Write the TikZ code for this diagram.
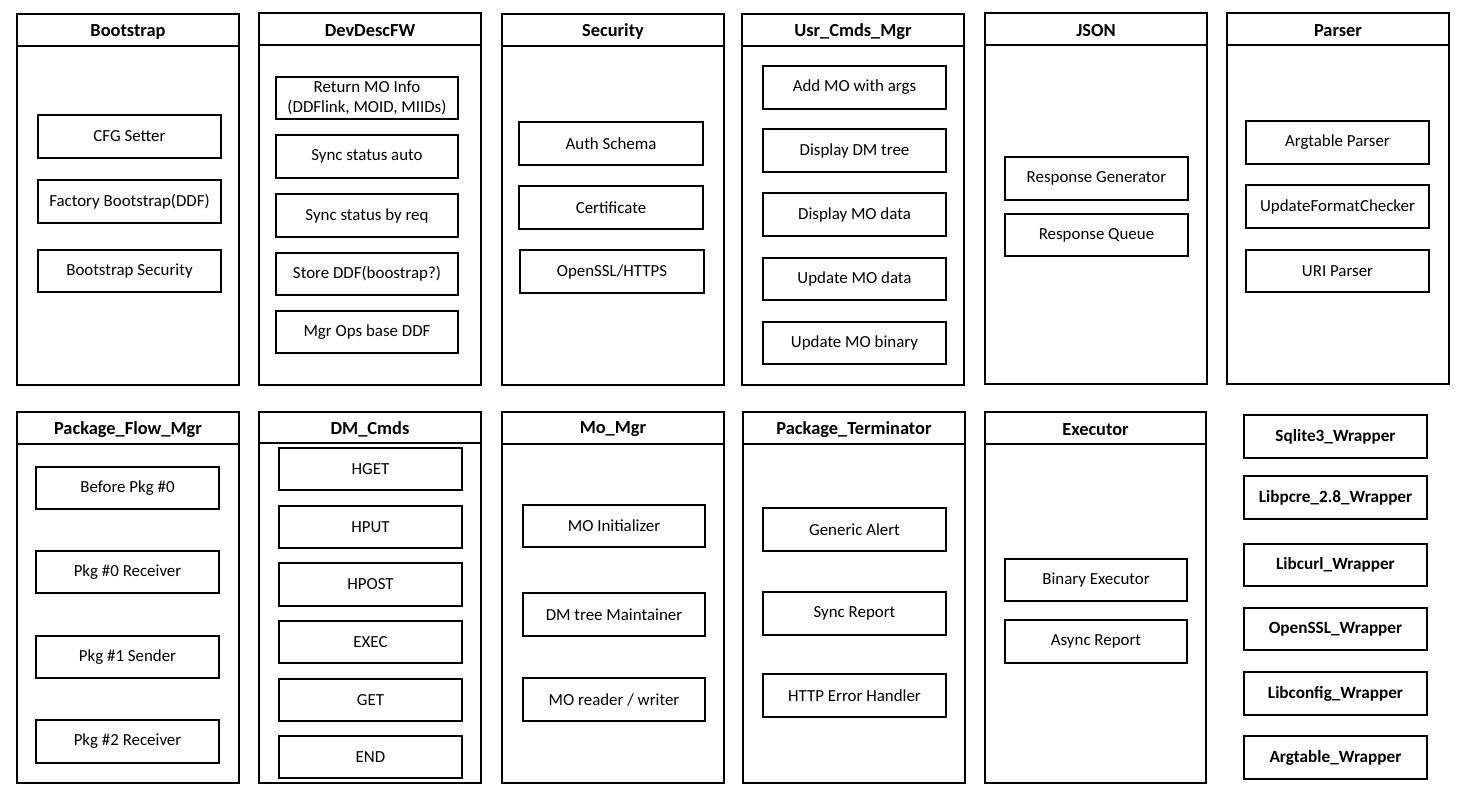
\documentclass[tikz,border=0pt]{standalone}
\usepackage{fontspec}
\setmainfont{Carlito}
\begin{document}
\begin{tikzpicture}[x=1pt,y=-1pt,
  cont/.style={draw,line width=2pt,inner sep=0pt,outer sep=0pt},
  hdr/.style={font=\fontsize{18.4}{20}\selectfont\bfseries,inner sep=0pt},
  ibox/.style={draw,line width=2pt,inner sep=0pt,outer sep=0pt,align=center,font=\fontsize{16.9}{20.5}\selectfont},
  wbox/.style={ibox,font=\fontsize{17.2}{20}\selectfont\bfseries}]
\useasboundingbox (0,0) rectangle (1460,795);
\newcommand\mycont[7]{%
  \node[cont,minimum width={#4-#2},minimum height={#5-#3}] (#1) at ({(#2+#4)/2},{(#3+#5)/2}) {};
  \draw[line width=2pt] (#2,#6) -- (#4,#6);
  \node[hdr] (#1-t) at ({(#2+#4)/2},{(#3+#6)/2+1.5}) {#7};}
\newcommand\mybox[7][ibox]{%
  \node[#1,minimum width={#5-#3},minimum height={#6-#4}] (#2) at ({(#3+#5)/2},{(#4+#6)/2}) {#7};}
% top row
\mycont{boot}{17}{14}{239}{385}{46}{Bootstrap}
\mybox{b1}{38}{115}{221}{158}{CFG Setter}
\mybox{b2}{38}{180}{221}{223}{Factory Bootstrap(DDF)}
\mybox{b3}{38}{250}{221}{292}{Bootstrap Security}
\mycont{dev}{259}{13}{481}{385}{45}{DevDescFW}
\mybox{d1}{276}{77}{458}{119}{Return MO Info\\(DDFlink, MOID, MIIDs)}
\mybox{d2}{276}{135}{458}{178}{Sync status auto}
\mybox{d3}{276}{194}{458}{237}{Sync status by req}
\mybox{d4}{276}{253}{458}{295}{Store DDF(boostrap?)}
\mybox{d5}{276}{311}{458}{353}{Mgr Ops base DDF}
\mycont{sec}{502}{14}{724}{385}{46}{Security}
\mybox{s1}{519}{122}{703}{165}{Auth Schema}
\mybox{s2}{519}{186}{703}{229}{Certificate}
\mybox{s3}{520}{250}{704}{293}{OpenSSL/HTTPS}
\mycont{usr}{742}{14}{964}{385}{46}{Usr\_Cmds\_Mgr}
\mybox{u1}{763}{66}{946}{109}{Add MO with args}
\mybox{u2}{763}{129}{946}{172}{Display DM tree}
\mybox{u3}{763}{193}{946}{236}{Display MO data}
\mybox{u4}{763}{258}{946}{300}{Update MO data}
\mybox{u5}{763}{322}{946}{364}{Update MO binary}
\mycont{json}{985}{13}{1207}{384}{45}{JSON}
\mybox{j1}{1005}{157}{1188}{200}{Response Generator}
\mybox{j2}{1005}{214}{1188}{256}{Response Queue}
\mycont{par}{1227}{13}{1449}{384}{45}{Parser}
\mybox{p1}{1246}{121}{1429}{164}{Argtable Parser}
\mybox{p2}{1246}{185}{1429}{228}{UpdateFormatChecker}
\mybox{p3}{1246}{250}{1429}{292}{URI Parser}
% bottom row
\mycont{pfm}{17}{412}{239}{783}{444}{Package\_Flow\_Mgr}
\mybox{f1}{36}{467}{219}{509}{Before Pkg \#0}
\mybox{f2}{36}{551}{219}{593}{Pkg \#0 Receiver}
\mybox{f3}{36}{636}{219}{678}{Pkg \#1 Sender}
\mybox{f4}{36}{720}{219}{763}{Pkg \#2 Receiver}
\mycont{dmc}{259}{412}{481}{783}{443}{DM\_Cmds}
\mybox{c1}{279}{448}{462}{490}{HGET}
\mybox{c2}{279}{506}{462}{548}{HPUT}
\mybox{c3}{279}{563}{462}{606}{HPOST}
\mybox{c4}{279}{621}{462}{663}{EXEC}
\mybox{c5}{279}{679}{462}{721}{GET}
\mybox{c6}{279}{736}{462}{778}{END}
\mycont{mo}{502}{412}{724}{783}{444}{Mo\_Mgr}
\mybox{m1}{523}{505}{705}{547}{MO Initializer}
\mybox{m2}{523}{593}{705}{636}{DM tree Maintainer}
\mybox{m3}{523}{678}{705}{721}{MO reader / writer}
\mycont{pt}{743}{412}{965}{783}{444}{Package\_Terminator}
\mybox{t1}{763}{508}{946}{551}{Generic Alert}
\mybox{t2}{763}{592}{946}{635}{Sync Report}
\mybox{t3}{763}{674}{946}{717}{HTTP Error Handler}
\mycont{exe}{985}{412}{1206}{783}{444}{Executor}
\mybox{e1}{1005}{559}{1187}{601}{Binary Executor}
\mybox{e2}{1005}{620}{1187}{663}{Async Report}
% wrappers
\mybox[wbox]{w1}{1244}{415}{1427}{458}{Sqlite3\_Wrapper}
\mybox[wbox]{w2}{1244}{476}{1427}{519}{Libpcre\_2.8\_Wrapper}
\mybox[wbox]{w3}{1244}{544}{1427}{586}{Libcurl\_Wrapper}
\mybox[wbox]{w4}{1244}{608}{1427}{650}{OpenSSL\_Wrapper}
\mybox[wbox]{w5}{1244}{672}{1427}{715}{Libconfig\_Wrapper}
\mybox[wbox]{w6}{1244}{736}{1427}{779}{Argtable\_Wrapper}
\end{tikzpicture}
\end{document}
